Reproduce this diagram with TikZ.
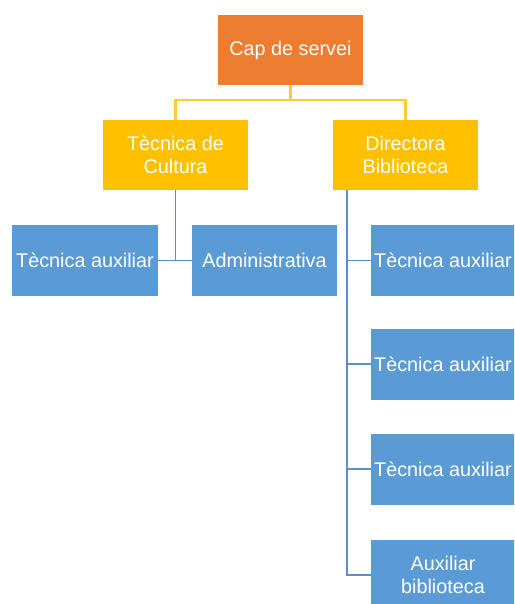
\documentclass[tikz,border=0pt]{standalone}
\usepackage{fontspec}
\setmainfont{Liberation Sans}
\definecolor{boxorange}{HTML}{ED7D31}
\definecolor{boxyellow}{HTML}{FFC000}
\definecolor{boxblue}{HTML}{5B9BD5}
\definecolor{lineyellow}{HTML}{FFCC33}
\definecolor{lineblue}{HTML}{5B8FCC}
\begin{document}
\begin{tikzpicture}[x=1pt,y=-1pt,
  box/.style={minimum width=145pt,minimum height=70pt,inner sep=1pt,text=white,
    align=center,font=\fontsize{19.8}{23}\selectfont},
  orangebox/.style={box,fill=boxorange},
  yellowbox/.style={box,fill=boxyellow},
  bluebox/.style={box,fill=boxblue,minimum height=71pt},
  yconn/.style={draw=lineyellow,line width=2.2pt},
  bconn/.style={draw=lineblue,line width=1.8pt}]
\useasboundingbox (0,0) rectangle (514,604);
\fill[white] (0,0) rectangle (514,604);
\clip (0,0) rectangle (514,604);
\node[orangebox] (cap) at (290.5,50) {Cap de servei};
\node[yellowbox] (tc) at (175.5,155) {Tècnica de\\Cultura};
\node[yellowbox] (db) at (405.5,155) {Directora\\Biblioteca};
\node[bluebox,minimum width=146pt] (ta1) at (85,260.5) {Tècnica auxiliar};
\node[bluebox] (adm) at (264.5,260.5) {Administrativa};
\node[bluebox,minimum width=144pt] (ta2) at (443,260.5) {Tècnica auxiliar};
\node[bluebox,minimum width=144pt] (ta3) at (443,364) {Tècnica auxiliar};
\node[bluebox,minimum width=144pt] (ta4) at (443,469) {Tècnica auxiliar};
\node[bluebox,minimum width=144pt] (ab) at (443,575) {Auxiliar\\biblioteca};
\coordinate (ymid) at (290.5,100);
\draw[yconn] (cap.south) -- (ymid);
\draw[yconn] (tc.north) |- (ymid) -| (db.north);
\coordinate (lb) at (175.5,260.5);
\draw[bconn] (tc.south) -- (lb);
\draw[bconn] (ta1.east) -- (adm.west);
\coordinate (rt) at (347,190);
\draw[bconn] (rt) |- (ab.west);
\draw[bconn] (rt |- ta2.west) -- (ta2.west);
\draw[bconn] (rt |- ta3.west) -- (ta3.west);
\draw[bconn] (rt |- ta4.west) -- (ta4.west);
\end{tikzpicture}
\end{document}
